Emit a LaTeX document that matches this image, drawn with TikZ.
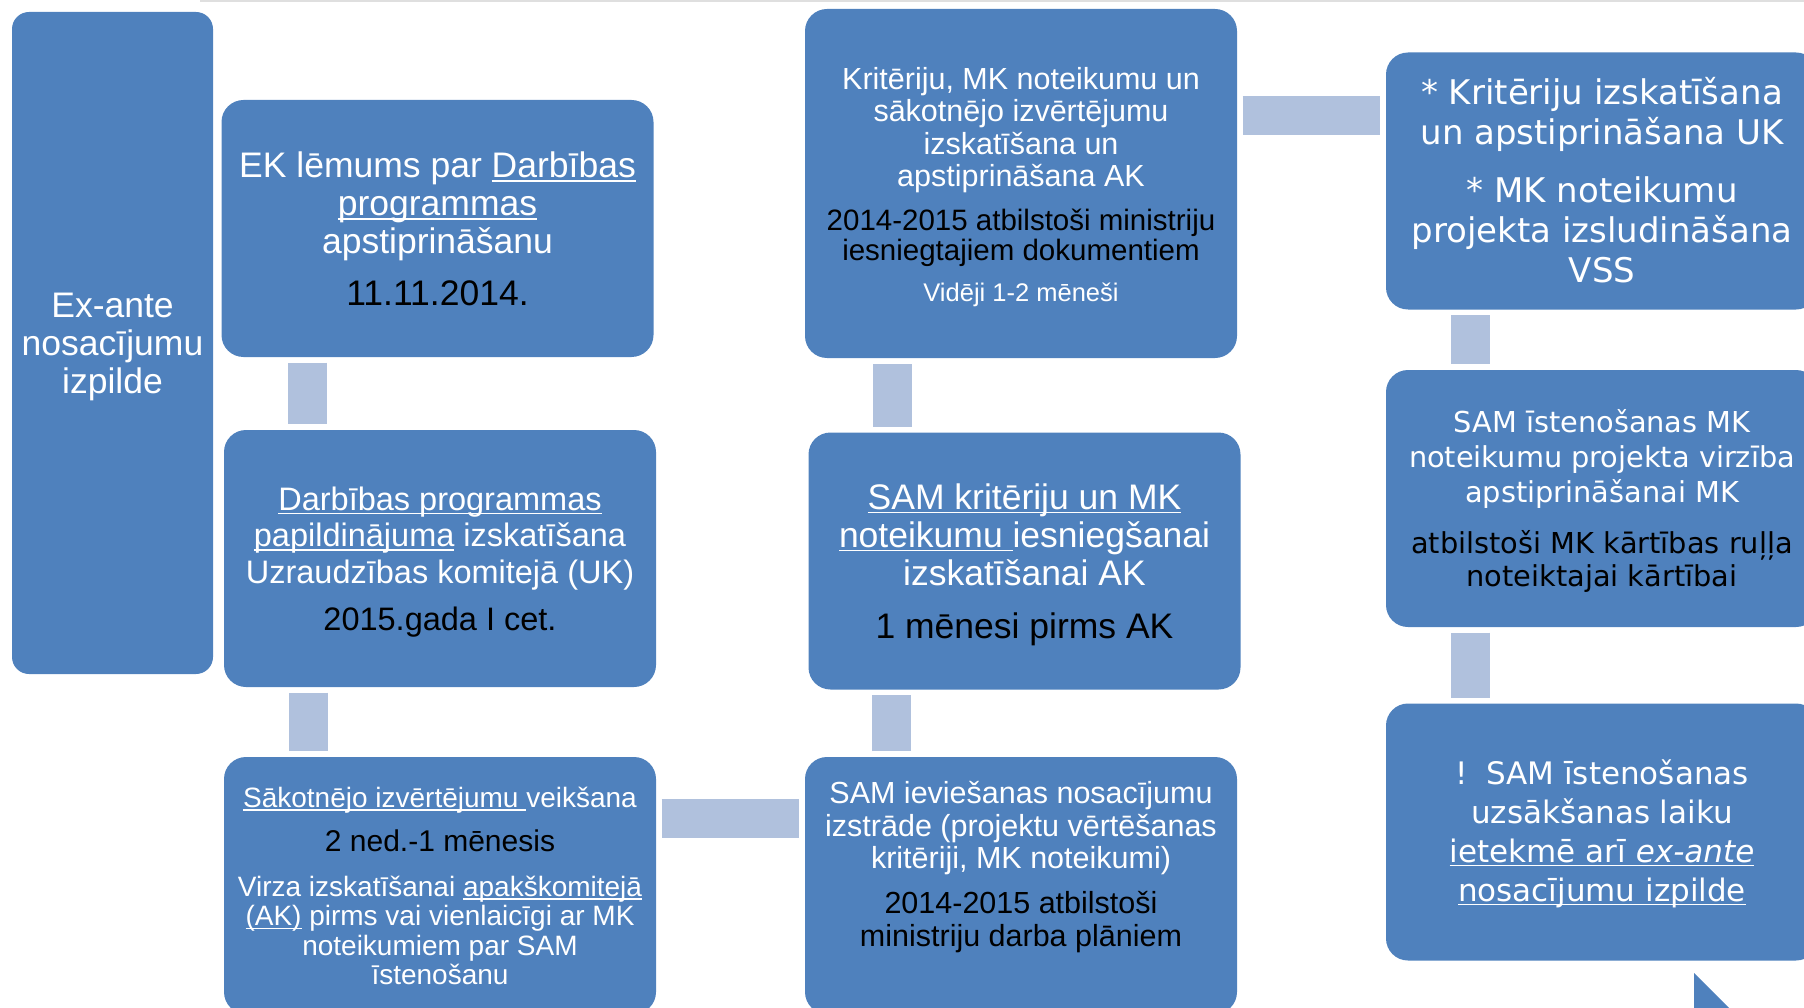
\documentclass[tikz,border=0pt]{standalone}
\usepackage{fontspec}
\setmainfont{Liberation Sans}
\newfontfamily\vfont{DejaVu Sans}
\usetikzlibrary{calc}
\definecolor{boxblue}{HTML}{4F81BD}
\definecolor{linkblue}{HTML}{B0C1DD}
\newsavebox\undlbox
\newcommand{\fsz}[2]{\fontsize{#1}{#2}\selectfont}
\newcommand{\undl}[1]{\setbox\undlbox=\hbox{#1}\rlap{\rule[-0.12em]{\wd\undlbox}{0.05em}}\box\undlbox}
\tikzset{
  card/.style={fill=boxblue,rounded corners=22pt,inner sep=0pt,minimum width=432pt,minimum height=257pt},
  cardtext/.style={align=center,text=white,inner sep=0pt,yshift=-3.5pt},
  link/.style={draw=linkblue,line width=39pt,shorten <=5.5pt,shorten >=5.5pt}
}
\begin{document}
\begin{tikzpicture}[x=1pt,y=-1pt]
  \useasboundingbox (0,0) rectangle (1804,1008);
  \clip (0,0) rectangle (1804,1008);
  \draw[gray!25,line width=1.5pt] (200,1) -- (1804,1);

  % boxes
  \node[card,rounded corners=17pt,minimum width=201pt,minimum height=662pt] (exante) at (112.5,343) {};
  \node[card] (lemums) at (437.5,228.5) {};
  \node[card] (papild) at (440,558.5) {};
  \node[card] (sakotn) at (440,885.5) {};
  \node[card] (ieviesana) at (1021,885.5) {};
  \node[card] (iesniegs) at (1024.5,561) {};
  \node[card,minimum height=349pt] (apstipr) at (1021,183.5) {};
  \node[card] (ukvss) at (1602,181) {};
  \node[card] (virziba) at (1602,498.5) {};
  \node[card] (ietekme) at (1602,832) {};
  \fill[boxblue] (1694,973) -- (1694,1020) -- (1741,1020) -- cycle;

  % texts
  \node[cardtext,font=\fsz{35.5}{38}] (exante-t) at (exante.center) {Ex-ante\\ nosacījumu\\ izpilde};
  \node[cardtext,font=\fsz{35.5}{38},yshift=3pt] (lemums-t) at (lemums.center)
    {EK lēmums par \undl{Darbības}\\ \undl{programmas}\\ apstiprināšanu\\[13.5pt]
     \textcolor{black}{11.11.2014.}};
  \node[cardtext,font=\fsz{32.5}{36.5}] (papild-t) at (papild.center)
    {\undl{Darbības programmas}\\ \undl{papildinājuma} izskatīšana\\ Uzraudzības komitejā (UK)\\[10.5pt]
     \textcolor{black}{2015.gada I cet.}};
  \node[cardtext,font=\fsz{28}{29.5},yshift=3pt] (sakotn-t) at (sakotn.center)
    {\undl{Sākotnējo izvērtējumu }veikšana\\[14.5pt]
     \textcolor{black}{\fsz{30}{30}2 ned.-1 mēnesis}\\[15.5pt]
     Virza izskatīšanai \undl{apakškomitejā}\\ \undl{(AK)} pirms vai vienlaicīgi ar MK\\
     noteikumiem par SAM\\ īstenošanu};
  \node[cardtext,font=\fsz{30.5}{32.5}] (ieviesana-t) at ($(ieviesana.center)+(0,-21.5)$)
    {SAM ieviešanas nosacījumu\\ izstrāde (projektu vērtēšanas\\ kritēriji, MK noteikumi)\\[12.5pt]
     \textcolor{black}{2014-2015 atbilstoši}\\[0.5pt] \textcolor{black}{ministriju darba plāniem}};
  \node[cardtext,font=\fsz{35.5}{38}] (iesniegs-t) at (iesniegs.center)
    {\undl{SAM kritēriju un MK}\\ \undl{noteikumu }iesniegšanai\\ izskatīšanai AK\\[15pt]
     \textcolor{black}{1 mēnesi pirms AK}};
  \node[cardtext,font=\fsz{30.5}{32.3}] (apstipr-t) at (apstipr.center)
    {Kritēriju, MK noteikumu un\\ sākotnējo izvērtējumu\\ izskatīšana un\\ apstiprināšana AK\\[11.7pt]
     \textcolor{black}{\fsz{29.5}{30}2014-2015 atbilstoši ministriju}\\[-2.3pt]
     \textcolor{black}{\fsz{29.5}{30}iesniegtajiem dokumentiem}\\[8.7pt]
     {\fsz{25.5}{30}Vidēji 1-2 mēneši}};
  \node[cardtext,font=\vfont\fsz{34}{40},yshift=4.5pt] (ukvss-t) at (ukvss.center)
    {* Kritēriju izskatīšana\\ un apstiprināšana UK\\[18pt] * MK noteikumu\\ projekta izsludināšana\\ VSS};
  \node[cardtext,font=\vfont\fsz{28.8}{35},yshift=1.5pt] (virziba-t) at (virziba.center)
    {SAM īstenošanas MK\\ noteikumu projekta virzība\\ apstiprināšanai MK\\[16pt]
     \textcolor{black}{atbilstoši MK kārtības ruļļa}\\[-2pt] \textcolor{black}{noteiktajai kārtībai}};
  \node[cardtext,font=\vfont\fsz{31}{39},yshift=1.5pt] (ietekme-t) at (ietekme.center)
    {!\hspace{0.6em}SAM īstenošanas\\ uzsākšanas laiku\\ \undl{ietekmē arī \textit{ex-ante}}\\ \undl{nosacījumu izpilde}};

  % connectors
  \coordinate (abbar) at ([xshift=86pt]lemums.south west);
  \coordinate (bcbar) at ([xshift=85pt]papild.south west);
  \coordinate (cdbar) at ([yshift=-62pt]sakotn.north east);
  \coordinate (debar) at ([xshift=87pt]ieviesana.north west);
  \coordinate (efbar) at ([xshift=88pt]apstipr.south west);
  \coordinate (fgbar) at ([yshift=-63pt]ukvss.north west);
  \coordinate (ghbar) at ([xshift=85pt]ukvss.south west);
  \coordinate (hibar) at ([xshift=85pt]virziba.south west);
  \draw[link] (abbar) -- (abbar |- papild.north);
  \draw[link] (bcbar) -- (bcbar |- sakotn.north);
  \draw[link] (cdbar) -- (cdbar -| ieviesana.west);
  \draw[link] (debar) -- (debar |- iesniegs.south);
  \draw[link] (efbar |- iesniegs.north) -- (efbar);
  \draw[link] (apstipr.east |- fgbar) -- (fgbar);
  \draw[link] (ghbar) -- (ghbar |- virziba.north);
  \draw[link] (hibar) -- (hibar |- ietekme.north);
\end{tikzpicture}
\end{document}
